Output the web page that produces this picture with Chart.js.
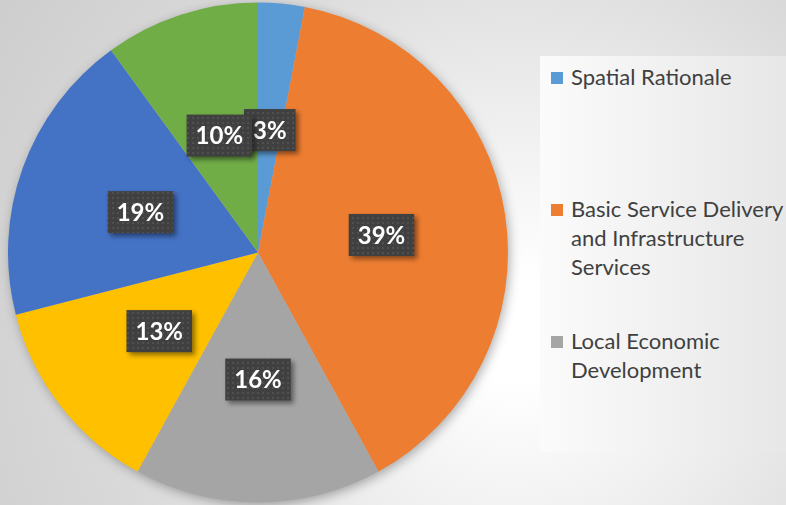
<!DOCTYPE html>
<html>
<head>
<meta charset="utf-8">
<script src="https://cdn.jsdelivr.net/npm/chart.js@4/dist/chart.umd.min.js"></script>
<style>
  html, body { margin: 0; padding: 0; }
  body {
    width: 786px; height: 505px; overflow: hidden; position: relative;
    background: radial-gradient(circle at 515px 330px, #ffffff 0px, #ffffff 50px, #eeeeee 220px, #d9d9d9 420px, #cdcdcd 620px);
    font-family: Lato, "Open Sans", sans-serif;
  }
  #wrap { position: absolute; left: 0; top: 0; width: 786px; height: 505px; }
  #legendBox {
    position: absolute; left: 540px; top: 56px; width: 246px; height: 396px;
    background: linear-gradient(to right, #fbfbfb, #f1f1f1 50%, #e7e7e7);
  }
  #legendBox ul { list-style: none; margin: 0; padding: 6px 0 0 11px; }
  #legendBox li { height: 132px; display: flex; align-items: flex-start; }
  #legendBox .sw { width: 12px; height: 12px; margin-top: 10px; margin-right: 8px; flex: none; }
  #legendBox .tx { width: 216px; font-size: 22px; line-height: 29px; color: #404040; }
</style>
</head>
<body>
<div id="wrap"><canvas id="pieChart"></canvas></div>
<div id="legendBox"><ul id="legendList"></ul></div>
<script>
// Dados do gráfico
const labels = [
  'Spatial Rationale',
  'Basic Service Delivery and Infrastructure Services',
  'Local Economic Development',
  'Financial Viability and Management',
  'Good Governance and Public Participation',
  'Municipal Transformation and Institutional Development'
];
const values = [3, 39, 16, 13, 19, 10];
const colors = ['#5B9BD5', '#ED7D31', '#A5A5A5', '#FFC000', '#4472C4', '#70AD47'];
const legendShown = 3; // só as três primeiras aparecem na legenda

// textura pontilhada das caixas de rótulo
function dotPattern(ctx) {
  const c = document.createElement('canvas');
  c.width = 5; c.height = 5;
  const p = c.getContext('2d');
  p.fillStyle = '#404040';
  p.fillRect(0, 0, 5, 5);
  p.fillStyle = '#505050';
  p.fillRect(2, 2, 2, 2);
  return ctx.createPattern(c, 'repeat');
}

// sombra atrás da pizza
const pieShadow = {
  id: 'pieShadow',
  beforeDatasetsDraw(chart) {
    const arc = chart.getDatasetMeta(0).data[0];
    if (!arc) return;
    const ctx = chart.ctx;
    ctx.save();
    ctx.shadowColor = 'rgba(0,0,0,0.35)';
    ctx.shadowBlur = 12;
    ctx.shadowOffsetX = 2;
    ctx.shadowOffsetY = 3;
    ctx.fillStyle = '#bbbbbb';
    ctx.beginPath();
    ctx.arc(arc.x, arc.y, arc.outerRadius - 1, 0, Math.PI * 2);
    ctx.fill();
    ctx.restore();
  }
};

// rótulos com caixa escura
const boxLabels = {
  id: 'boxLabels',
  afterDatasetsDraw(chart) {
    const ctx = chart.ctx;
    const pattern = dotPattern(ctx);
    const total = values.reduce((a, b) => a + b, 0);
    chart.getDatasetMeta(0).data.forEach((arc, i) => {
      const pos = arc.tooltipPosition();
      const y = pos.y + 2;
      const txt = Math.round(values[i] / total * 100) + '%';
      ctx.save();
      ctx.font = 'bold 24px Lato, "Open Sans", sans-serif';
      const w = ctx.measureText(txt).width + 18;
      const h = 42;
      ctx.shadowColor = 'rgba(0,0,0,0.45)';
      ctx.shadowBlur = 5;
      ctx.shadowOffsetX = 3;
      ctx.shadowOffsetY = 3;
      ctx.fillStyle = pattern;
      ctx.fillRect(pos.x - w / 2, y - h / 2, w, h);
      ctx.shadowColor = 'transparent';
      ctx.fillStyle = '#ffffff';
      ctx.textAlign = 'center';
      ctx.textBaseline = 'middle';
      ctx.fillText(txt, pos.x, y + 1);
      ctx.restore();
    });
  }
};

const chart = new Chart(document.getElementById('pieChart'), {
  type: 'pie',
  data: {
    labels: labels,
    datasets: [{ data: values, backgroundColor: colors, borderWidth: 0, hoverOffset: 0 }]
  },
  options: {
    responsive: true,
    maintainAspectRatio: false,
    animation: false,
    layout: { padding: { left: 8, right: 278, top: 0, bottom: 0 } },
    plugins: {
      legend: { display: false },
      tooltip: { enabled: false }
    }
  },
  plugins: [pieShadow, boxLabels]
});

// Legenda em HTML
const list = document.getElementById('legendList');
labels.slice(0, legendShown).forEach((lab, i) => {
  const li = document.createElement('li');
  li.innerHTML = '<span class="sw" style="background:' + colors[i] + '"></span><span class="tx"></span>';
  li.querySelector('.tx').textContent = lab;
  list.appendChild(li);
});
</script>
</body>
</html>
